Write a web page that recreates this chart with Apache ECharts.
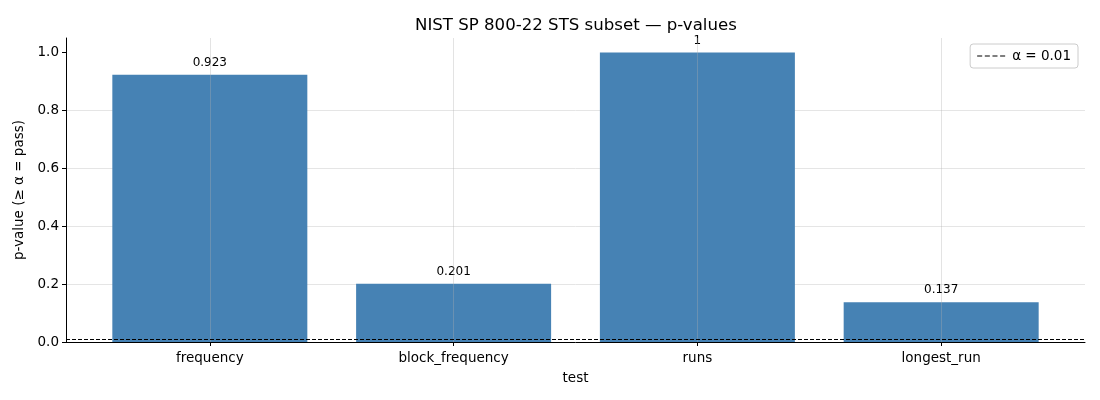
<!DOCTYPE html>
<html>
<head>
<meta charset="utf-8">
<script src="https://cdn.jsdelivr.net/npm/echarts@6/dist/echarts.min.js"></script>
<style>
  html, body { margin: 0; padding: 0; background: #fff; }
  #chart { width: 1100px; height: 400px; }
</style>
</head>
<body>
<div id="chart"></div>
<script>
// test names and their p-values
const tests = ['frequency', 'block_frequency', 'runs', 'longest_run'];
const pValues = [0.923, 0.201, 1, 0.137];
const alpha = 0.01;
const yTicks = [0, 0.2, 0.4, 0.6, 0.8, 1.0];

const font = 'DejaVu Sans';
const positions = tests.map((t, i) => i);
const barData = pValues.map((v, i) => [positions[i], v]);

const chart = echarts.init(document.getElementById('chart'));

const option = {
  backgroundColor: '#ffffff',
  animation: false,
  textStyle: { fontFamily: font },
  title: {
    text: 'NIST SP 800-22 STS subset \u2014 p-values',
    left: 410,
    top: 12,
    textStyle: { fontFamily: font, fontSize: 16.6, fontWeight: 'normal', color: '#000' }
  },
  legend: {
    right: 22,
    top: 44,
    padding: [5, 7],
    borderColor: '#cccccc',
    borderWidth: 1,
    borderRadius: 3,
    itemWidth: 28,
    itemHeight: 1.6,
    itemGap: 10,
    textStyle: { fontFamily: font, fontSize: 13.5, color: '#000', padding: [0, 0, 0, 2] },
    data: [{
      name: '\u03b1 = 0.01',
      icon: 'path://M0,0 h5 v1 h-5 Z M7.6,0 h5 v1 h-5 Z M15.2,0 h5 v1 h-5 Z M22.8,0 h5 v1 h-5 Z',
      itemStyle: { color: '#000', borderWidth: 0 }
    }]
  },
  grid: { left: 66, right: 15, top: 38, bottom: 58 },
  xAxis: {
    type: 'value',
    min: -0.59,
    max: 3.59,
    z: 5,
    name: 'test',
    nameLocation: 'middle',
    nameGap: 29,
    nameTextStyle: { fontFamily: font, fontSize: 13.5, color: '#000' },
    axisLine: { show: true, onZero: false, lineStyle: { color: '#000', width: 1 } },
    axisTick: { show: true, length: 4, lineStyle: { color: '#000' }, customValues: positions },
    axisLabel: {
      fontFamily: font, fontSize: 13.5, color: '#000', margin: 9,
      customValues: positions,
      formatter: v => tests[Math.round(v)]
    },
    splitLine: { show: false }
  },
  yAxis: {
    type: 'value',
    min: 0,
    max: 1.05,
    interval: 0.2,
    z: 0,
    name: 'p-value (\u2265 \u03b1 = pass)',
    nameLocation: 'middle',
    nameGap: 40,
    nameTextStyle: { fontFamily: font, fontSize: 13.5, color: '#000' },
    axisLine: { show: true, onZero: false, lineStyle: { color: '#000', width: 1 } },
    axisTick: { show: true, length: 4, lineStyle: { color: '#000' }, customValues: yTicks },
    axisLabel: {
      fontFamily: font, fontSize: 13.5, color: '#000', margin: 7,
      customValues: yTicks,
      formatter: v => v.toFixed(1)
    },
    splitLine: {
      show: true,
      showMinLine: false,
      showMaxLine: false,
      lineStyle: { color: '#e5e5e5', width: 1 }
    }
  },
  series: [
    {
      name: 'p-value',
      type: 'bar',
      data: barData,
      barWidth: 195,
      z: 2,
      itemStyle: { color: '#4682b4', borderWidth: 0 },
      label: {
        show: true,
        position: 'top',
        distance: 6,
        fontFamily: font,
        fontSize: 12,
        color: '#000',
        formatter: p => String(p.value[1])
      }
    },
    {
      // vertical grid lines, drawn over the bars
      type: 'line',
      data: [],
      silent: true,
      z: 3,
      markLine: {
        silent: true,
        symbol: 'none',
        label: { show: false },
        lineStyle: { color: 'rgba(176,176,176,0.35)', type: 'solid', width: 1 },
        data: positions.map(v => ({ xAxis: v }))
      }
    },
    {
      name: '\u03b1 = 0.01',
      type: 'line',
      data: [],
      symbol: 'none',
      z: 4,
      itemStyle: { color: '#000' },
      lineStyle: { color: '#000', type: [4, 2], width: 1 },
      markLine: {
        silent: true,
        symbol: 'none',
        label: { show: false },
        lineStyle: { color: '#000', type: [4, 2], width: 1 },
        data: [{ yAxis: alpha }]
      }
    }
  ]
};

chart.setOption(option);
</script>
</body>
</html>
